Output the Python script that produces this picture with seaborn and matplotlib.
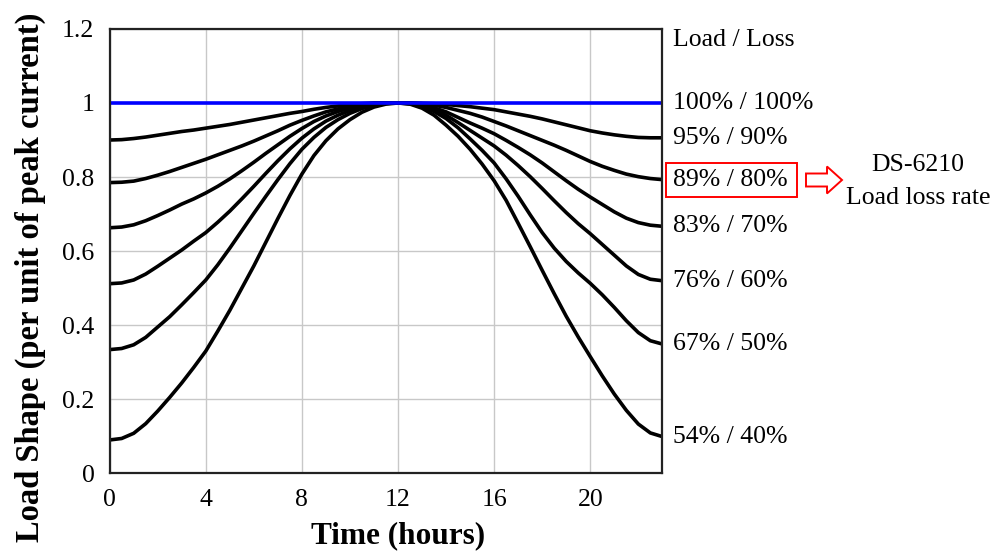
import pandas as pd
import matplotlib
matplotlib.use('Agg')
import matplotlib.pyplot as plt
from matplotlib.patches import Rectangle, FancyArrow
import seaborn as sns

# load shape, per unit of peak current, every half hour
hours = [0, 0.5, 1, 1.5, 2, 2.5, 3, 3.5, 4, 4.5, 5, 5.5, 6, 6.5, 7, 7.5,
         8, 8.5, 9, 9.5, 10, 10.5, 11, 11.5, 12, 12.5, 13, 13.5, 14, 14.5, 15, 15.5,
         16, 16.5, 17, 17.5, 18, 18.5, 19, 19.5, 20, 20.5, 21, 21.5, 22, 22.5, 23]

shape_100_100 = [1.0, 1.0, 1.0, 1.0, 1.0, 1.0, 1.0, 1.0, 1.0, 1.0, 1.0, 1.0, 1.0, 1.0, 1.0, 1.0,
                 1.0, 1.0, 1.0, 1.0, 1.0, 1.0, 1.0, 1.0, 1.0, 1.0, 1.0, 1.0, 1.0, 1.0, 1.0, 1.0,
                 1.0, 1.0, 1.0, 1.0, 1.0, 1.0, 1.0, 1.0, 1.0, 1.0, 1.0, 1.0, 1.0, 1.0, 1.0]
shape_95_90 = [0.900, 0.901, 0.904, 0.908, 0.913, 0.918, 0.923, 0.927, 0.932, 0.937, 0.942, 0.948,
               0.954, 0.960, 0.966, 0.972, 0.977, 0.983, 0.988, 0.992, 0.996, 0.998, 1.0, 1.0,
               1.0, 1.0, 0.999, 0.998, 0.996, 0.993, 0.990, 0.986, 0.982, 0.976, 0.970, 0.964,
               0.957, 0.949, 0.941, 0.933, 0.925, 0.919, 0.914, 0.910, 0.907, 0.906, 0.906]
shape_89_80 = [0.785, 0.786, 0.789, 0.796, 0.805, 0.815, 0.826, 0.837, 0.848, 0.860, 0.872, 0.884,
               0.897, 0.911, 0.925, 0.940, 0.953, 0.965, 0.976, 0.984, 0.991, 0.996, 0.999, 1.0,
               1.0, 1.0, 0.998, 0.994, 0.988, 0.980, 0.972, 0.962, 0.950, 0.938, 0.925, 0.912,
               0.899, 0.886, 0.872, 0.857, 0.842, 0.829, 0.818, 0.808, 0.801, 0.796, 0.793]
shape_83_70 = [0.663, 0.665, 0.671, 0.682, 0.696, 0.711, 0.727, 0.741, 0.757, 0.775, 0.795, 0.817,
               0.840, 0.864, 0.887, 0.910, 0.931, 0.950, 0.965, 0.977, 0.987, 0.994, 0.998, 1.0,
               1.0, 0.999, 0.995, 0.987, 0.976, 0.961, 0.946, 0.932, 0.917, 0.899, 0.880, 0.860,
               0.838, 0.814, 0.790, 0.767, 0.746, 0.726, 0.706, 0.689, 0.677, 0.670, 0.667]
shape_76_60 = [0.512, 0.514, 0.522, 0.538, 0.559, 0.581, 0.603, 0.627, 0.650, 0.678, 0.708, 0.741,
               0.775, 0.810, 0.844, 0.876, 0.905, 0.930, 0.951, 0.967, 0.980, 0.990, 0.996, 0.999,
               1.0, 0.999, 0.994, 0.983, 0.967, 0.947, 0.926, 0.905, 0.884, 0.859, 0.831, 0.801,
               0.769, 0.736, 0.704, 0.674, 0.647, 0.618, 0.589, 0.560, 0.537, 0.524, 0.520]
shape_67_50 = [0.334, 0.337, 0.347, 0.367, 0.395, 0.423, 0.455, 0.488, 0.522, 0.563, 0.608, 0.655,
               0.702, 0.748, 0.793, 0.836, 0.875, 0.907, 0.934, 0.955, 0.972, 0.985, 0.994, 0.999,
               1.0, 0.998, 0.991, 0.977, 0.958, 0.933, 0.903, 0.872, 0.838, 0.795, 0.748, 0.698,
               0.650, 0.608, 0.572, 0.541, 0.513, 0.482, 0.448, 0.412, 0.380, 0.358, 0.349]
shape_54_40 = [0.090, 0.094, 0.108, 0.134, 0.168, 0.205, 0.244, 0.286, 0.330, 0.384, 0.440, 0.500,
               0.560, 0.624, 0.688, 0.750, 0.808, 0.858, 0.898, 0.930, 0.955, 0.975, 0.989, 0.997,
               1.0, 0.997, 0.986, 0.967, 0.940, 0.910, 0.875, 0.835, 0.790, 0.737, 0.675, 0.612,
               0.548, 0.485, 0.424, 0.368, 0.315, 0.263, 0.214, 0.170, 0.133, 0.109, 0.099]

series_labels = ['100% / 100%', '95% / 90%', '89% / 80%', '83% / 70%',
                 '76% / 60%', '67% / 50%', '54% / 40%']
series_values = [shape_100_100, shape_95_90, shape_89_80, shape_83_70,
                 shape_76_60, shape_67_50, shape_54_40]

x_ticks = [0, 4, 8, 12, 16, 20]
y_ticks = [0, 0.2, 0.4, 0.6, 0.8, 1.0, 1.2]
y_tick_labels = ['0', '0.2', '0.4', '0.6', '0.8', '1', '1.2']

df = pd.concat(
    [pd.DataFrame({'hour': hours, 'shape': vals, 'label': lab})
     for lab, vals in zip(series_labels, series_values)],
    ignore_index=True)

sns.set_style('white')
plt.rcParams['font.family'] = ['Liberation Serif', 'DejaVu Serif']
plt.rcParams['text.color'] = 'black'

fig = plt.figure(figsize=(10.06, 5.52), dpi=100)
ax = fig.add_axes([0.109, 0.1426, 0.5494, 0.805])

palette = {lab: 'black' for lab in series_labels}
palette['100% / 100%'] = '#0000ff'
# blue drawn last so it sits on top of the peaks
hue_order = series_labels[1:] + series_labels[:1]
sns.lineplot(data=df, x='hour', y='shape', hue='label', hue_order=hue_order,
             palette=palette, linewidth=2.6, legend=False, ax=ax)

ax.set_xlim(0, 23)
ax.set_ylim(0, 1.2)
ax.set_xticks(x_ticks)
ax.set_yticks(y_ticks)
ax.set_yticklabels(y_tick_labels)
ax.grid(True, color='#c8c8c8', linewidth=1)
ax.set_axisbelow(True)
ax.tick_params(axis='both', direction='out', length=5, color='#c0c0c0',
               labelsize=18.5, labelcolor='black', pad=6)
for sp in ax.spines.values():
    sp.set_color('#222222')
    sp.set_linewidth(1.6)
ax.set_xlabel('')
ax.set_ylabel('')

# series names at the right end of each curve
ytrans = ax.get_yaxis_transform()
for lab, vals in zip(series_labels, series_values):
    ax.text(1.019, vals[-1], lab, transform=ytrans, ha='left', va='center',
            fontsize=18.5, color='black')
ax.text(1.019, 1.171, 'Load / Loss', transform=ytrans, ha='left', va='center',
        fontsize=18.5, color='black')

trans = fig.dpi_scale_trans
fig.add_artist(Rectangle((6.66, 3.55), 1.31, 0.34, fill=False, edgecolor='red',
                         linewidth=1.4, transform=trans))
fig.add_artist(FancyArrow(8.06, 3.72, 0.36, 0, width=0.13, head_width=0.27,
                          head_length=0.15, length_includes_head=True,
                          facecolor='white', edgecolor='red', linewidth=1.4,
                          transform=trans))
fig.text(9.18, 3.87, 'DS-6210', transform=trans, ha='center', va='center',
         fontsize=18.5, color='black')
fig.text(9.18, 3.54, 'Load loss rate', transform=trans, ha='center', va='center',
         fontsize=18.5, color='black')

fig.text(0.30, 2.75, 'Load Shape (per unit of peak current)', transform=trans,
         rotation=90, ha='center', va='center', fontsize=23.5, fontweight='bold',
         color='black')
fig.text(3.98, 0.16, 'Time (hours)', transform=trans, ha='center', va='center',
         fontsize=22.5, fontweight='bold', color='black')

fig.savefig('out.png', dpi=100)
